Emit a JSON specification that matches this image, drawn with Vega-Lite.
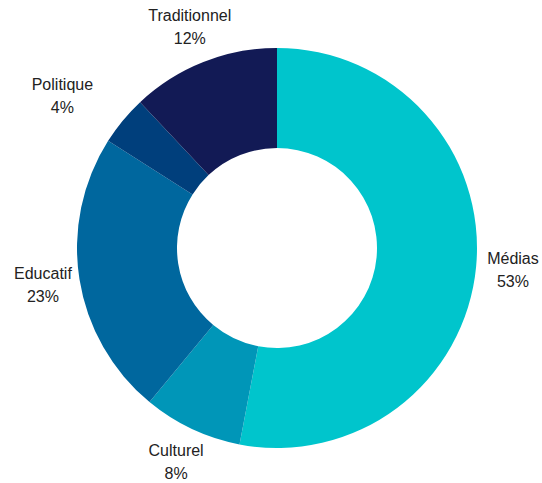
{
  "$schema": "https://vega.github.io/schema/vega-lite/v6.json",
  "autosize": {"type": "none"},
  "padding": {"left": 12, "top": 13, "right": 0, "bottom": 0},
  "width": 530,
  "height": 470,
  "background": "white",
  "config": {"view": {"stroke": null}},
  "data": {
    "values": [
      {"categorie": "Médias", "part": 0.53, "ordre": 1},
      {"categorie": "Culturel", "part": 0.08, "ordre": 2},
      {"categorie": "Educatif", "part": 0.23, "ordre": 3},
      {"categorie": "Politique", "part": 0.04, "ordre": 4},
      {"categorie": "Traditionnel", "part": 0.12, "ordre": 5}
    ]
  },
  "encoding": {
    "theta": {"field": "part", "type": "quantitative", "stack": true},
    "order": {"field": "ordre", "type": "quantitative"}
  },
  "layer": [
    {
      "mark": {"type": "arc", "outerRadius": 200, "innerRadius": 100, "stroke": null},
      "encoding": {
        "color": {
          "field": "categorie",
          "type": "nominal",
          "scale": {
            "domain": ["Médias", "Culturel", "Educatif", "Politique", "Traditionnel"],
            "range": ["#00C5CC", "#0096B8", "#00679E", "#003F7C", "#121A55"]
          },
          "legend": null
        }
      }
    },
    {
      "mark": {"type": "text", "radius": 237, "dy": -11.5, "fontSize": 16, "font": "Liberation Sans", "color": "#222222", "align": "center", "baseline": "middle"},
      "encoding": {
        "text": {"condition": {"test": "datum.categorie !== 'Politique'", "field": "categorie", "type": "nominal"}, "value": ""}
      }
    },
    {
      "mark": {"type": "text", "radius": 237, "dy": 11.5, "fontSize": 16, "font": "Liberation Sans", "color": "#222222", "align": "center", "baseline": "middle"},
      "encoding": {
        "text": {"condition": {"test": "datum.categorie !== 'Politique'", "field": "part", "type": "quantitative", "format": ".0%"}, "value": ""}
      }
    },
    {
      "mark": {"type": "text", "radius": 237, "dx": -32, "dy": -11.5, "fontSize": 16, "font": "Liberation Sans", "color": "#222222", "align": "center", "baseline": "middle"},
      "encoding": {
        "text": {"condition": {"test": "datum.categorie === 'Politique'", "field": "categorie", "type": "nominal"}, "value": ""}
      }
    },
    {
      "mark": {"type": "text", "radius": 237, "dx": -32, "dy": 11.5, "fontSize": 16, "font": "Liberation Sans", "color": "#222222", "align": "center", "baseline": "middle"},
      "encoding": {
        "text": {"condition": {"test": "datum.categorie === 'Politique'", "field": "part", "type": "quantitative", "format": ".0%"}, "value": ""}
      }
    }
  ]
}
